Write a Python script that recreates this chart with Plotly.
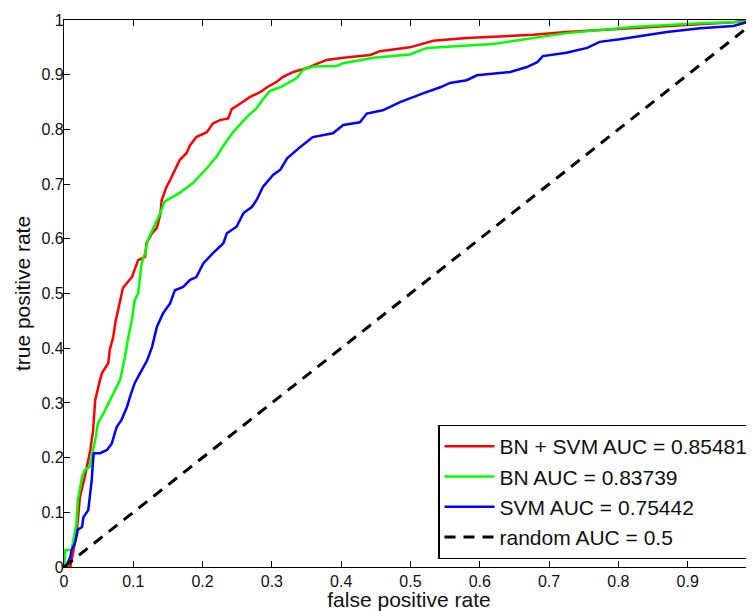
import plotly.graph_objects as go

# ROC curves (false positive rate / true positive rate)
bn_svm_fpr = [0, 0.009, 0.013, 0.019, 0.023, 0.030, 0.038, 0.042, 0.045, 0.049,
              0.052, 0.055, 0.064, 0.066, 0.071, 0.074, 0.078, 0.081, 0.085, 0.092,
              0.098, 0.107, 0.117, 0.119, 0.127, 0.134, 0.139, 0.141, 0.148, 0.153,
              0.160, 0.167, 0.177, 0.182, 0.191, 0.206, 0.215, 0.225, 0.237, 0.242,
              0.254, 0.268, 0.283, 0.293, 0.307, 0.316, 0.331, 0.350, 0.379, 0.403,
              0.442, 0.456, 0.499, 0.533, 0.581, 0.677, 0.725, 0.821, 0.918, 0.966,
              0.985, 1.0]
bn_svm_tpr = [0, 0, 0.025, 0.073, 0.128, 0.165, 0.214, 0.250, 0.305, 0.330,
              0.342, 0.355, 0.373, 0.397, 0.420, 0.446, 0.470, 0.482, 0.510, 0.521,
              0.530, 0.561, 0.567, 0.592, 0.610, 0.620, 0.645, 0.671, 0.695, 0.707,
              0.726, 0.744, 0.757, 0.771, 0.786, 0.795, 0.811, 0.817, 0.820, 0.837,
              0.847, 0.859, 0.868, 0.877, 0.887, 0.896, 0.905, 0.912, 0.927, 0.931,
              0.936, 0.943, 0.950, 0.962, 0.967, 0.973, 0.978, 0.985, 0.993, 0.996,
              1.0, 1.0]

bn_fpr = [0, 0.002, 0.011, 0.013, 0.018, 0.020, 0.026, 0.030, 0.037, 0.045,
          0.049, 0.057, 0.066, 0.074, 0.081, 0.088, 0.092, 0.098, 0.102, 0.107,
          0.110, 0.112, 0.117, 0.121, 0.129, 0.139, 0.145, 0.150, 0.167, 0.186,
          0.206, 0.220, 0.230, 0.244, 0.264, 0.278, 0.287, 0.297, 0.312, 0.336,
          0.345, 0.359, 0.394, 0.403, 0.446, 0.499, 0.524, 0.619, 0.677, 0.725,
          0.821, 0.918, 0.985, 1.0]
bn_tpr = [0, 0.031, 0.031, 0.044, 0.080, 0.122, 0.165, 0.177, 0.183, 0.232,
          0.263, 0.281, 0.305, 0.324, 0.342, 0.384, 0.415, 0.452, 0.488, 0.500,
          0.530, 0.555, 0.574, 0.598, 0.620, 0.647, 0.668, 0.672, 0.684, 0.702,
          0.729, 0.750, 0.770, 0.795, 0.823, 0.839, 0.855, 0.870, 0.877, 0.894,
          0.909, 0.915, 0.916, 0.921, 0.931, 0.937, 0.949, 0.956, 0.967, 0.976,
          0.987, 0.994, 0.997, 1.0]

svm_fpr = [0, 0.004, 0.009, 0.011, 0.016, 0.020, 0.026, 0.028, 0.035, 0.038,
           0.040, 0.042, 0.043, 0.052, 0.062, 0.069, 0.076, 0.083, 0.091, 0.095,
           0.102, 0.110, 0.120, 0.127, 0.134, 0.143, 0.153, 0.160, 0.172, 0.182,
           0.191, 0.201, 0.215, 0.230, 0.235, 0.249, 0.259, 0.271, 0.278, 0.287,
           0.302, 0.312, 0.322, 0.341, 0.359, 0.388, 0.403, 0.427, 0.437, 0.460,
           0.485, 0.518, 0.543, 0.557, 0.581, 0.596, 0.644, 0.668, 0.683, 0.691,
           0.725, 0.755, 0.773, 0.802, 0.835, 0.870, 0.918, 0.966, 0.985, 1.0]
svm_tpr = [0, 0.004, 0.018, 0.031, 0.044, 0.068, 0.073, 0.091, 0.104, 0.135,
           0.159, 0.196, 0.208, 0.208, 0.214, 0.226, 0.256, 0.269, 0.293, 0.310,
           0.336, 0.355, 0.378, 0.402, 0.439, 0.464, 0.482, 0.506, 0.512, 0.525,
           0.530, 0.555, 0.574, 0.592, 0.610, 0.622, 0.647, 0.658, 0.671, 0.695,
           0.717, 0.726, 0.747, 0.768, 0.786, 0.793, 0.808, 0.813, 0.829, 0.835,
           0.850, 0.866, 0.877, 0.885, 0.890, 0.899, 0.905, 0.914, 0.923, 0.934,
           0.940, 0.949, 0.960, 0.965, 0.971, 0.978, 0.985, 0.989, 0.996, 1.0]

random_fpr = [0, 1]
random_tpr = [0, 1]

tick_vals = [0, 0.1, 0.2, 0.3, 0.4, 0.5, 0.6, 0.7, 0.8, 0.9, 1]
tick_text = ["0", "0.1", "0.2", "0.3", "0.4", "0.5", "0.6", "0.7", "0.8", "0.9", "1"]

FONT = "Liberation Sans, Arial, Helvetica, sans-serif"

fig = go.Figure()

fig.add_trace(go.Scatter(x=bn_svm_fpr, y=bn_svm_tpr, mode="lines",
                         name="BN + SVM AUC = 0.85481",
                         line=dict(color="#ff0000", width=2.5)))
fig.add_trace(go.Scatter(x=bn_fpr, y=bn_tpr, mode="lines",
                         name="BN AUC = 0.83739",
                         line=dict(color="#00ff00", width=2.5)))
fig.add_trace(go.Scatter(x=svm_fpr, y=svm_tpr, mode="lines",
                         name="SVM AUC = 0.75442",
                         line=dict(color="#0000ff", width=2.5)))
fig.add_trace(go.Scatter(x=random_fpr, y=random_tpr, mode="lines",
                         name="random AUC = 0.5",
                         line=dict(color="#000000", width=3, dash="11px,8px")))

axis_style = dict(
    showline=True, linecolor="black", linewidth=1.2, mirror="ticks",
    ticks="inside", ticklen=6, tickcolor="black", tickwidth=1,
    showgrid=False, zeroline=False, automargin=False,
    tickvals=tick_vals, ticktext=tick_text,
    tickfont=dict(family=FONT, size=16, color="#111111"),
)

# the page body has an 8px margin, so the figure is a little smaller than the window
fig.update_layout(
    width=746, height=603,
    margin=dict(l=56, r=0, t=12, b=44),
    paper_bgcolor="white", plot_bgcolor="white",
    font=dict(family=FONT, color="#111111"),
    showlegend=True,
    legend=dict(
        x=0.999, y=0.015, xanchor="right", yanchor="bottom",
        bgcolor="white", bordercolor="black", borderwidth=1.2,
        font=dict(family=FONT, size=21, color="#111111"),
        itemwidth=50, tracegroupgap=0,
    ),
)

fig.update_xaxes(range=[0, 0.9957], title=dict(text="false positive rate",
                 font=dict(family=FONT, size=21), standoff=2), **axis_style)
fig.update_yaxes(range=[0, 1], title=dict(text="true positive rate",
                 font=dict(family=FONT, size=21), standoff=5),
                 ticklabelstandoff=-4, **axis_style)

fig.write_html("out.html")
